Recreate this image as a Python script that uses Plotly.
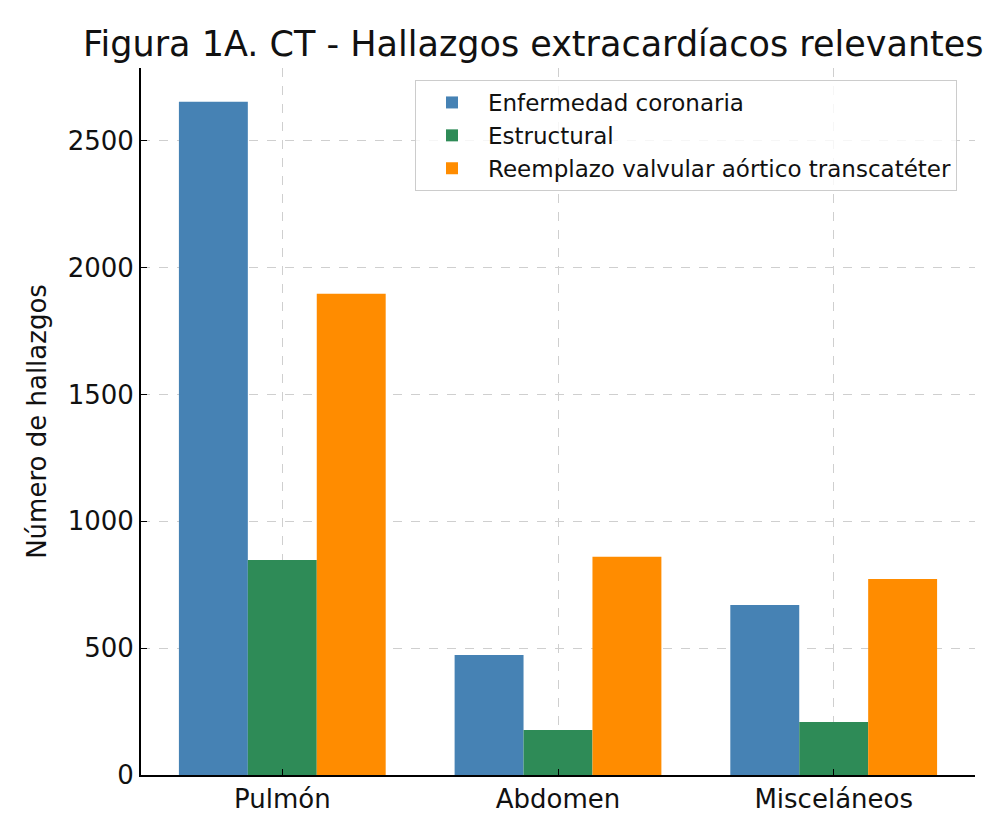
import plotly.graph_objects as go

categories = ["Pulmón", "Abdomen", "Misceláneos"]
series_names = ["Enfermedad coronaria", "Estructural", "Reemplazo valvular aórtico transcatéter"]
coronaria = [2654, 473, 670]
estructural = [848, 177, 209]
tavi = [1897, 860, 773]
colors = ["#4682B4", "#2E8B57", "#FF8C00"]
y_ticks = [0, 500, 1000, 1500, 2000, 2500]

FONT = "DejaVu Sans"
fig = go.Figure()
for name, vals, col in zip(series_names, [coronaria, estructural, tavi], colors):
    fig.add_trace(go.Bar(x=categories, y=vals, name=name, marker=dict(color=col, line=dict(width=0))))

fig.update_layout(
    width=1000, height=837,
    margin=dict(l=141, r=25, t=68, b=62),
    paper_bgcolor="white", plot_bgcolor="white",
    barmode="group", bargap=0.25, bargroupgap=0,
    font=dict(family=FONT, color="#111111"),
    title=dict(text="Figura 1A. CT - Hallazgos extracardíacos relevantes",
               x=83/1000, xanchor="left", xref="container", y=1 - 44/837, yanchor="middle",
               yref="container", font=dict(size=35, family=FONT, color="#111111")),
    legend=dict(x=(415-141)/834, y=(775-80)/707, xanchor="left", yanchor="top",
                bordercolor="#cccccc", borderwidth=1, bgcolor="rgba(255,255,255,0.8)",
                font=dict(size=23, family=FONT), itemwidth=62, tracegroupgap=6),
    xaxis=dict(range=[-0.5125, 2.5125], showgrid=True, gridcolor="#cfcfcf", griddash="dash",
               gridwidth=1, ticks="inside", ticklen=6, tickcolor="black",
               showline=True, linecolor="black", linewidth=2,
               tickfont=dict(size=26, family=FONT), zeroline=False),
    yaxis=dict(range=[0, 2787], tickvals=y_ticks, showgrid=True, gridcolor="#cfcfcf",
               griddash="dash", gridwidth=1, ticks="inside", ticklen=6, tickcolor="black",
               showline=True, linecolor="black", linewidth=2, zeroline=False,
               tickfont=dict(size=26, family=FONT),
               title=dict(text="Número de hallazgos", font=dict(size=26, family=FONT), standoff=14)),
)
fig.write_html("out.html")
